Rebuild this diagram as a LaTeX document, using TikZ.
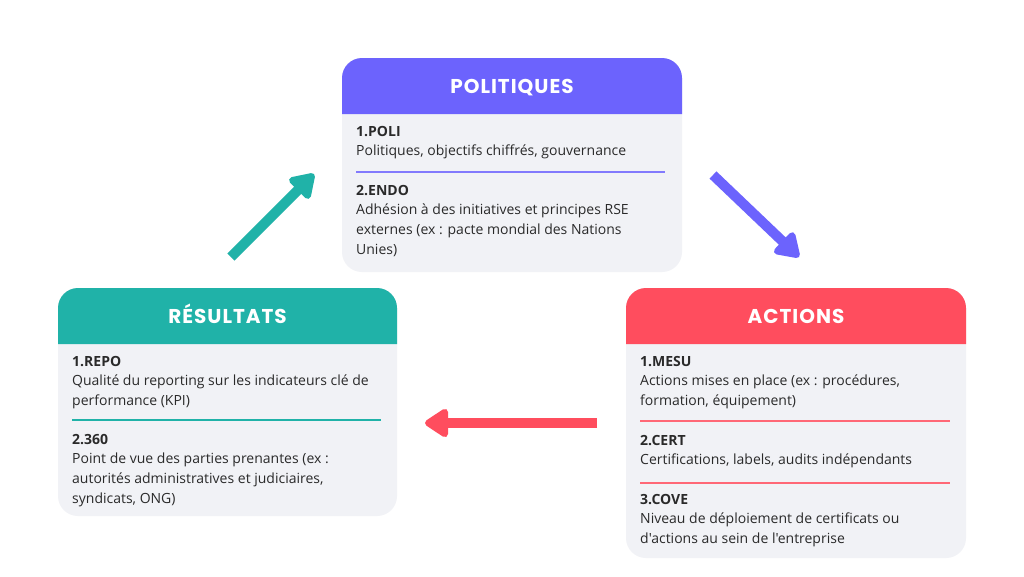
\documentclass[tikz,border=0pt]{standalone}
\usepackage{fontspec}
\setmainfont{Open Sans}[Ligatures=TeXOff]
\newfontfamily\titlefont{Poppins}[LetterSpace=5]
\usetikzlibrary{arrows.meta}
\definecolor{cpur}{HTML}{6C63FD}
\definecolor{cteal}{HTML}{20B2A8}
\definecolor{cred}{HTML}{FF4D5E}
\definecolor{cbody}{HTML}{F1F2F6}
\definecolor{ctext}{HTML}{2A2A2A}
\tikzset{
  bodybox/.style={fill=cbody, rounded corners=20pt},
  title/.style={anchor=base, text=white, inner sep=0pt, font={\titlefont\fontsize{20}{22}\selectfont\bfseries}},
  section/.style={anchor=north west, inner sep=0pt, align=left, text=ctext, font={\fontsize{14}{19.7}\selectfont}},
  sep/.style={line width=2.2pt},
  bigarrow/.style={line width=10pt, -{Triangle[length=26pt,width=32pt,round]}},
}
\newcommand{\hd}[1]{\rule{0pt}{10.5pt}\textbf{#1}}
\begin{document}
\begin{tikzpicture}[x=1pt,y=-1pt]
\useasboundingbox[fill=white] (0,0) rectangle (1024,576);

% POLITIQUES
\path[bodybox] (342,58) rectangle (682,272);
\fill[cpur] (342,114) [rounded corners=20pt] -- (342,58) -- (682,58) [sharp corners] -- (682,114) -- cycle;
\node[title] (tpol) at (512,93) {POLITIQUES};
\node[section] (poli) at (356,125.3) {\hd{1.POLI}\\Politiques, objectifs chiffrés, gouvernance};
\draw[sep, cpur!85] (356,172) -- (665,172);
\node[section] (endo) at (356,184.3) {\hd{2.ENDO}\\Adhésion à des initiatives et principes RSE\\externes (ex : pacte mondial des Nations\\Unies)};

% RESULTATS
\path[bodybox] (58,288) rectangle (397,516);
\fill[cteal] (58,344) [rounded corners=20pt] -- (58,288) -- (397,288) [sharp corners] -- (397,344) -- cycle;
\node[title] (tres) at (227.5,323) {RÉSULTATS};
\node[section] (repo) at (72,355.3) {\hd{1.REPO}\\Qualité du reporting sur les indicateurs clé de\\performance (KPI)};
\draw[sep, cteal] (72,420) -- (381,420);
\node[section] (s360) at (72,433.3) {\hd{2.360}\\Point de vue des parties prenantes (ex :\\autorités administratives et judiciaires,\\syndicats, ONG)};

% ACTIONS
\path[bodybox] (626,288) rectangle (966,558);
\fill[cred] (626,344) [rounded corners=20pt] -- (626,288) -- (966,288) [sharp corners] -- (966,344) -- cycle;
\node[title] (tact) at (796,323) {ACTIONS};
\node[section] (mesu) at (640,355.3) {\hd{1.MESU}\\Actions mises en place (ex : procédures,\\formation, équipement)};
\draw[sep, cred!85] (640,421) -- (950,421);
\node[section] (cert) at (640,434.3) {\hd{2.CERT}\\Certifications, labels, audits indépendants};
\draw[sep, cred!85] (640,483) -- (950,483);
\node[section] (cove) at (640,493.3) {\hd{3.COVE}\\Niveau de déploiement de certificats ou\\d'actions au sein de l'entreprise};

% arrows
\coordinate (a1s) at (231,257);
\coordinate (a1e) at (314,174);
\coordinate (a2s) at (713,175);
\coordinate (a2e) at (799,257);
\coordinate (a3s) at (597,423);
\coordinate (a3e) at (425,423);
\draw[bigarrow, cteal] (a1s) -- (a1e);
\draw[bigarrow, cpur] (a2s) -- (a2e);
\draw[bigarrow, cred] (a3s) -- (a3e);
\end{tikzpicture}
\end{document}
